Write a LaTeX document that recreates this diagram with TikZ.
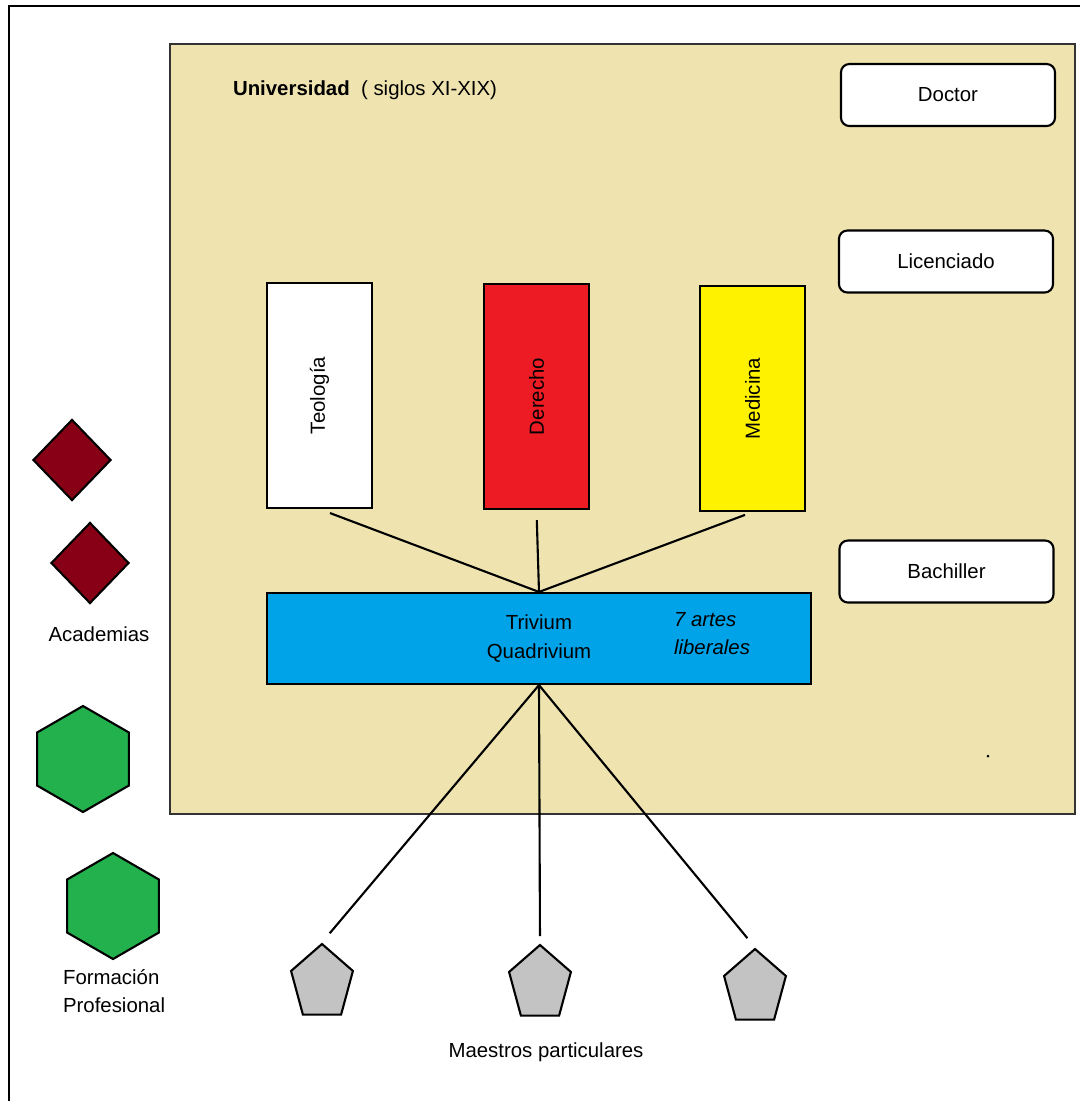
\documentclass[tikz,border=0pt]{standalone}
\usepackage{fontspec}
\setmainfont{Liberation Sans}
\usetikzlibrary{shapes.geometric}
\definecolor{univ}{HTML}{EFE4B0}
\definecolor{rojo}{HTML}{ED1C24}
\definecolor{amarillo}{HTML}{FFF200}
\definecolor{azul}{HTML}{00A2E8}
\definecolor{granate}{HTML}{880015}
\definecolor{verde}{HTML}{22B14C}
\definecolor{gris}{HTML}{C3C3C3}
\begin{document}
\begin{tikzpicture}[x=0.025cm,y=-0.025cm,line width=1.5pt,
	txt/.style={inner sep=0pt,font=\fontsize{14.5}{20}\selectfont},
	grado/.style={draw,fill=white,rounded corners=6pt,minimum width=5.35cm,minimum height=1.55cm,txt},
	facultad/.style={draw,rotate=90,minimum width=5.625cm,minimum height=2.625cm,txt},
	academia/.style={draw,diamond,fill=granate,inner sep=0pt,minimum width=1.95cm,minimum height=2.025cm},
	oficio/.style={draw,regular polygon,regular polygon sides=6,shape border rotate=90,fill=verde,inner sep=0pt,minimum size=2.65cm},
	maestro/.style={draw,regular polygon,regular polygon sides=5,fill=gris,inner sep=0pt,minimum size=1.625cm,yscale=1.2}]
	\useasboundingbox (0,0) rectangle (1080,1101);
	\draw[line width=1.5pt] (1080,6) -- (9,6) -- (9,1101);
	% universidad
	\draw[fill=univ,draw=black!80] (170,44) rectangle (1075,814);
	\node[txt,anchor=base west] (titulo) at (232,95) {\textbf{Universidad}\ \ ( siglos XI-XIX)};
	\node[grado] (doctor) at (948,95) {Doctor};
	\node[grado] (lic) at (946,261.5) {Licenciado};
	\node[grado] (bach) at (946.5,571.5) {Bachiller};
	\node[facultad,fill=white] (teo) at (319.5,395.5) {Teología};
	\node[facultad,fill=rojo] (der) at (536.5,396.5) {Derecho};
	\node[facultad,fill=amarillo] (med) at (752.5,398.5) {Medicina};
	\node[txt,draw,fill=azul,minimum width=13.6cm,minimum height=2.275cm,align=center] (triv) at (539,638.5) {Trivium\\Quadrivium};
	\node[txt,anchor=west,align=left,font=\fontsize{14.5}{20}\selectfont\itshape] (artes) at (673,634) {7 artes\\liberales};
	\fill (988,756) circle (1.5);
	\draw[shorten <=0.28cm] (teo.west) -- (triv.north);
	\draw[shorten <=0.25cm] (der.west) -- (triv.north);
	\draw[shorten <=0.2cm] (med.west) -- (triv.north);
	% fuera
	\node[academia] (ac1) at (72,460) {};
	\node[academia] (ac2) at (90,563) {};
	\node[txt] (acad) at (99,634) {Academias};
	\node[oficio] (fp1) at (83,759) {};
	\node[oficio] (fp2) at (113,906) {};
	\node[txt,anchor=west,align=left] (fp) at (62,991) {Formación\\Profesional};
	\node[maestro] (m1) at (322,983) {};
	\node[maestro] (m2) at (540,984) {};
	\node[maestro] (m3) at (755,988) {};
	\node[txt] (maestros) at (546,1052) {Maestros particulares};
	\draw[shorten >=0.3cm] (triv.south) -- (m1.north);
	\draw[shorten >=0.18cm] (triv.south) -- (m2.north);
	\draw[shorten >=0.3cm] (triv.south) -- (m3.north);
\end{tikzpicture}
\end{document}
